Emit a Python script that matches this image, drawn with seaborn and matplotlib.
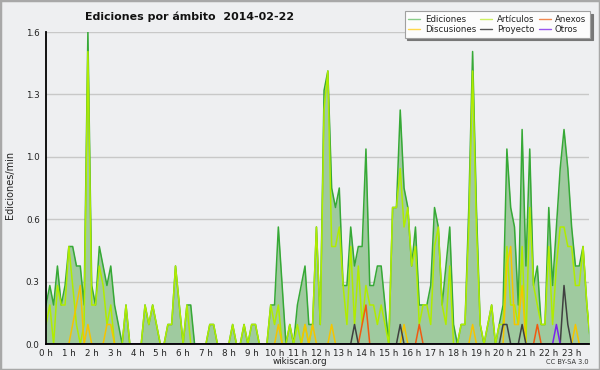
import numpy as np
import matplotlib
matplotlib.use("Agg")
import matplotlib.pyplot as plt
import seaborn as sns
from matplotlib.lines import Line2D
from matplotlib.patches import Rectangle
from matplotlib.ticker import FixedLocator, MultipleLocator

sns.set_style("white")
plt.rcParams['font.family'] = ['DejaVu Sans']

# 10-minute slots, 0h .. 23h50
slots = list(range(144))

ediciones = [0.2, 0.3, 0.2, 0.4, 0.2, 0.3, 0.5, 0.5, 0.4, 0.4, 0.2, 1.6, 0.3, 0.2, 0.5, 0.4, 0.3, 0.4, 0.2, 0.1,
             0.0, 0.2, 0.0, 0.0, 0.0, 0.0, 0.2, 0.1, 0.2, 0.1, 0.0, 0.0, 0.1, 0.1, 0.4, 0.2, 0.0, 0.2, 0.2, 0.0,
             0.0, 0.0, 0.0, 0.1, 0.1, 0.0, 0.0, 0.0, 0.0, 0.1, 0.0, 0.0, 0.1, 0.0, 0.1, 0.1, 0.0, 0.0, 0.0, 0.2,
             0.2, 0.6, 0.3, 0.0, 0.1, 0.0, 0.2, 0.3, 0.4, 0.1, 0.1, 0.6, 0.1, 1.3, 1.4, 0.8, 0.7, 0.8, 0.3, 0.3,
             0.6, 0.4, 0.5, 0.5, 1.0, 0.3, 0.3, 0.4, 0.4, 0.2, 0.0, 0.7, 0.7, 1.2, 0.8, 0.7, 0.4, 0.6, 0.2, 0.2,
             0.2, 0.3, 0.7, 0.6, 0.2, 0.4, 0.6, 0.1, 0.0, 0.1, 0.1, 0.7, 1.5, 0.7, 0.1, 0.0, 0.1, 0.2, 0.0, 0.1,
             0.2, 1.0, 0.7, 0.6, 0.2, 1.1, 0.4, 1.0, 0.3, 0.4, 0.1, 0.1, 0.7, 0.3, 0.6, 0.9, 1.1, 0.9, 0.6, 0.4,
             0.4, 0.5, 0.2, 0.0]

articulos = [0.1, 0.2, 0.0, 0.3, 0.2, 0.2, 0.5, 0.3, 0.1, 0.0, 0.1, 1.5, 0.2, 0.2, 0.4, 0.3, 0.1, 0.2, 0.0, 0.0,
             0.0, 0.2, 0.0, 0.0, 0.0, 0.0, 0.2, 0.1, 0.2, 0.1, 0.0, 0.0, 0.1, 0.1, 0.4, 0.2, 0.0, 0.2, 0.0, 0.0,
             0.0, 0.0, 0.0, 0.1, 0.1, 0.0, 0.0, 0.0, 0.0, 0.1, 0.0, 0.0, 0.1, 0.0, 0.1, 0.1, 0.0, 0.0, 0.0, 0.2,
             0.1, 0.2, 0.0, 0.0, 0.1, 0.0, 0.1, 0.0, 0.1, 0.0, 0.1, 0.6, 0.1, 1.2, 1.4, 0.5, 0.5, 0.6, 0.3, 0.1,
             0.5, 0.1, 0.4, 0.1, 0.3, 0.2, 0.2, 0.1, 0.2, 0.1, 0.0, 0.7, 0.7, 0.9, 0.6, 0.7, 0.4, 0.5, 0.1, 0.2,
             0.2, 0.1, 0.5, 0.6, 0.2, 0.1, 0.4, 0.0, 0.0, 0.1, 0.1, 0.6, 1.4, 0.6, 0.1, 0.0, 0.1, 0.2, 0.0, 0.1,
             0.1, 0.5, 0.2, 0.2, 0.1, 0.5, 0.0, 0.7, 0.3, 0.2, 0.1, 0.1, 0.5, 0.1, 0.4, 0.6, 0.6, 0.5, 0.5, 0.3,
             0.3, 0.5, 0.2, 0.0]

# sparse series: slot -> value
anexos_pts = {83: 0.1, 84: 0.2, 98: 0.1, 129: 0.1}
discusiones_pts = {7: 0.1, 8: 0.2, 9: 0.3, 11: 0.1, 16: 0.1, 17: 0.1, 61: 0.1, 68: 0.1, 70: 0.1, 75: 0.1,
                   94: 0.1, 112: 0.1, 121: 0.4, 122: 0.5, 123: 0.1, 124: 0.1, 125: 0.3, 139: 0.1}
proyecto_pts = {81: 0.1, 93: 0.1, 120: 0.1, 121: 0.1, 125: 0.1, 136: 0.3, 137: 0.1}
otros_pts = {134: 0.1}

hour_labels = [f"{h} h" for h in range(24)]
y_ticks = [0.0, 0.32, 0.64, 0.96, 1.28, 1.6]

def dense(pts):
    return [pts.get(s, 0.0) for s in slots]

anexos = dense(anexos_pts)
discusiones = dense(discusiones_pts)
proyecto = dense(proyecto_pts)
otros = dense(otros_pts)

hours = np.array(slots) / 6.0

BG = "#eeeff1"
fig = plt.figure(figsize=(6, 3.7), dpi=100, facecolor=BG)
ax = fig.add_axes([46/600, 26/370, 543/600, 312/370])
ax.set_facecolor(BG)

ax.fill_between(hours, ediciones, color="#9fca9f", lw=0, zorder=1)
lw = 1.1
sns.lineplot(x=hours, y=ediciones, ax=ax, color="#36a936", lw=lw, zorder=3)
sns.lineplot(x=hours, y=articulos, ax=ax, color="#b0ec00", lw=lw, zorder=4)
sns.lineplot(x=hours, y=discusiones, ax=ax, color="#f5c400", lw=lw, zorder=5)
sns.lineplot(x=hours, y=anexos, ax=ax, color="#f05a10", lw=lw, zorder=5)
sns.lineplot(x=hours, y=proyecto, ax=ax, color="#404040", lw=lw, zorder=6)
sns.lineplot(x=hours, y=otros, ax=ax, color="#7a22ee", lw=lw, zorder=6)

ax.set_xlim(0, 23.76)
ax.set_ylim(0, 1.6)
ax.set_xlabel("")
ax.set_ylabel("")

ax.xaxis.set_major_locator(FixedLocator(range(24)))
ax.set_xticklabels(hour_labels)
ax.xaxis.set_minor_locator(MultipleLocator(0.2))
ax.yaxis.set_major_locator(FixedLocator(y_ticks))
ax.set_yticklabels([f"{v:.1f}" for v in y_ticks])
ax.yaxis.set_minor_locator(FixedLocator([0.16, 0.48, 0.8, 1.12, 1.44]))

ax.tick_params(axis='x', which='major', direction='out', length=3, width=1,
               color='black', labelsize=6.3, pad=0.3, labelcolor='#222222')
ax.tick_params(axis='y', which='major', direction='out', length=4, width=1,
               color='black', labelsize=6.3, pad=0.5, labelcolor='#222222')
ax.tick_params(axis='both', which='minor', direction='out', length=2.5, width=1, color='black')

ax.grid(axis='y', which='major', color='#c8c8c8', lw=1, zorder=0)
ax.set_axisbelow(True)
for side in ['top', 'right']:
    ax.spines[side].set_visible(False)
for side in ['left', 'bottom']:
    ax.spines[side].set_color('black')
    ax.spines[side].set_linewidth(1.3)
    ax.spines[side].set_zorder(10)

fig.text(85/600, 1 - 17/370, "Ediciones por ámbito  2014-02-22", fontsize=7.9,
         fontweight='bold', ha='left', va='center', color='#111111')
fig.text(10/600, 0.5, "Ediciones/min", rotation=90, fontsize=7, ha='center', va='center',
         color='#222222')
fig.text(300/600, 1 - 362/370, "wikiscan.org", fontsize=6.3, ha='center', va='center',
         color='#222222')
fig.text(589/600, 1 - 362/370, "CC BY-SA 3.0", fontsize=4.8, ha='right', va='center',
         color='#333333')

handles = [
    Line2D([], [], color="#88cc88", lw=1),
    Line2D([], [], color="#ffd84a", lw=1),
    Line2D([], [], color="#cdf060", lw=1),
    Line2D([], [], color="#555555", lw=1),
    Line2D([], [], color="#f08850", lw=1),
    Line2D([], [], color="#9955ee", lw=1),
]
labels = ["Ediciones", "Discusiones", "Artículos", "Proyecto", "Anexos", "Otros"]
leg = fig.legend(handles, labels, ncol=3, loc='upper right',
                 bbox_to_anchor=(590/600, 1 - 11/370), fontsize=6.2,
                 frameon=True, fancybox=False, shadow={'color': '#777777', 'alpha': 1},
                 handlelength=1.4, handletextpad=0.5, columnspacing=0.5,
                 labelspacing=0.1, borderpad=0.45, borderaxespad=0)
leg.get_frame().set_facecolor('#fcfcfc')
leg.get_frame().set_edgecolor('#a0a0a0')
leg.get_frame().set_linewidth(0.8)
for t in leg.get_texts():
    t.set_color('#222222')

fig.patches.append(Rectangle((0, 0), 1, 1, transform=fig.transFigure, fill=False,
                             edgecolor='#a8a8a8', lw=2.5, zorder=20))

fig.savefig("out.png", dpi=100, facecolor=BG)
